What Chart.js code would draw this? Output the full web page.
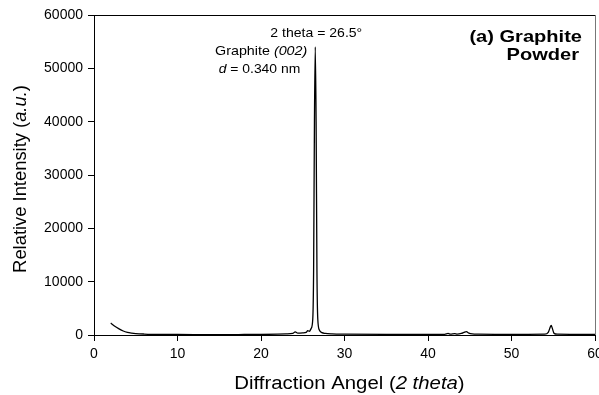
<!DOCTYPE html>
<html>
<head>
<meta charset="utf-8">
<script src="https://cdn.jsdelivr.net/npm/chart.js@4.4.1/dist/chart.umd.min.js"></script>
<style>
   body { margin: 0; overflow: hidden; background: #fff; }
   #wrap { width: 625px; height: 395px; position: relative; }
</style>
</head>
<body>
<div id="wrap"><canvas id="myChart"></canvas></div>
<script>
"use strict";

// XRD pattern
const angles = [
   2.0, 2.4, 3, 3.5, 4, 4.5, 5, 6, 7, 8, 10, 12, 14, 16, 18, 20, 22, 23,
   23.8, 24.1, 24.4, 25, 25.4, 25.6, 25.8, 26.0, 26.2, 26.3, 26.4, 26.5,
   26.6, 26.7, 26.8, 27.0, 27.3, 27.7, 28.5, 30, 35, 40, 42, 42.4, 42.7,
   43.2, 43.5, 44.0, 44.3, 44.6, 44.9, 45.3, 46, 48, 50, 52, 54, 54.4,
   54.6, 54.75, 54.9, 55.1, 55.5, 57, 60,
];
const intensity = [
   2250, 1750, 1150, 750, 500, 360, 270, 180, 130, 110, 90, 80, 80, 80, 90,
   100, 150, 200, 300, 600, 350, 400, 500, 800, 700, 1200, 3000, 12000,
   40000, 54000, 40000, 12000, 3000, 900, 450, 300, 200, 150, 120, 120,
   130, 300, 150, 250, 150, 300, 500, 650, 350, 200, 150, 130, 130, 130,
   150, 500, 1300, 1800, 1200, 300, 150, 130, 130,
];
const xTicks = [0, 10, 20, 30, 40, 50, 60];
const yTicks = [0, 10000, 20000, 30000, 40000, 50000, 60000];

const points = angles.map((a, i) => ({ x: a, y: intensity[i] }));

// draws one line of text made of several font runs, stretched by sx
const drawRuns = function (ctx, runs, x, y, align, sx = 1) {
   let total = 0;
   runs.forEach((r) => {
      ctx.font = r.font;
      total += ctx.measureText(r.t).width;
   });
   let start = 0;
   if (align === "center") start = -total / 2;
   if (align === "right") start = -total;
   ctx.save();
   ctx.translate(x, y);
   ctx.scale(sx, 1);
   ctx.textAlign = "left";
   runs.forEach((r) => {
      ctx.font = r.font;
      ctx.fillText(r.t, start, 0);
      start += ctx.measureText(r.t).width;
   });
   ctx.restore();
};

const F = "'Liberation Sans', Arial, sans-serif";

const textPlugin = {
   id: "texts",
   afterDraw(chart) {
      const ctx = chart.ctx;
      const a = chart.chartArea;
      const xs = chart.scales.x;
      ctx.save();
      // frame
      ctx.lineWidth = 1;
      ctx.strokeStyle = "#000";
      ctx.beginPath();
      ctx.moveTo(a.left, a.top + 0.5);
      ctx.lineTo(a.right + 1, a.top + 0.5);
      ctx.stroke();
      ctx.strokeStyle = "#777";
      ctx.beginPath();
      ctx.moveTo(a.right + 0.5, a.top);
      ctx.lineTo(a.right + 0.5, a.bottom);
      ctx.stroke();

      ctx.fillStyle = "#000";
      ctx.textBaseline = "alphabetic";
      const px = xs.getPixelForValue(26.5);
      drawRuns(ctx, [{ t: "2 theta = 26.5°", font: "13px " + F }], px + 1, 37, "center", 1.08);
      drawRuns(ctx, [
         { t: "Graphite ", font: "13px " + F },
         { t: "(002)", font: "italic 13px " + F },
      ], px - 8, 55, "right", 1.1);
      drawRuns(ctx, [
         { t: "d", font: "italic 13px " + F },
         { t: " = 0.340 nm", font: "13px " + F },
      ], px - 15, 73, "right", 1.07);

      drawRuns(ctx, [{ t: "(a) Graphite", font: "bold 17px " + F }], a.right - 13, 42, "right", 1.18);
      drawRuns(ctx, [{ t: "Powder", font: "bold 17px " + F }], a.right - 16, 60, "right", 1.18);

      // axis titles
      drawRuns(ctx, [
         { t: "Diffraction Angel (", font: "18px " + F },
         { t: "2 theta", font: "italic 18px " + F },
         { t: ")", font: "18px " + F },
      ], (a.left + a.right) / 2 + 5, 389, "center", 1.13);

      ctx.translate(26, 179);
      ctx.rotate(-Math.PI / 2);
      drawRuns(ctx, [
         { t: "Relative Intensity (", font: "18px " + F },
         { t: "a.u.", font: "italic 18px " + F },
         { t: ")", font: "18px " + F },
      ], 0, 0, "center", 1.02);
      ctx.restore();
   },
};

const ctx = document.getElementById("myChart").getContext("2d");
const myChart = new Chart(ctx, {
   type: "scatter",
   data: {
      datasets: [
         {
            label: "Graphite powder",
            data: points,
            showLine: true,
            borderColor: "#000",
            borderWidth: 1.3,
            pointRadius: 0,
            cubicInterpolationMode: "monotone",
         },
      ],
   },
   options: {
      responsive: true,
      maintainAspectRatio: false,
      animation: false,
      layout: { padding: { left: 0, right: 30, top: 15, bottom: 0 } },
      plugins: { legend: { display: false }, tooltip: { enabled: false } },
      scales: {
         x: {
            type: "linear",
            min: 0,
            max: 60,
            afterBuildTicks: (s) => { s.ticks = xTicks.map((v) => ({ value: v })); },
            afterFit: (s) => { s.height = 60; },
            ticks: { color: "#000", font: { family: F, size: 14 }, padding: 5, maxRotation: 0 },
            grid: { drawOnChartArea: false, drawTicks: true, tickLength: 6, color: "#000" },
            border: { color: "#000", width: 1 },
         },
         y: {
            min: 0,
            max: 60000,
            afterBuildTicks: (s) => { s.ticks = yTicks.map((v) => ({ value: v })); },
            afterFit: (s) => { s.width = 94; },
            ticks: { color: "#000", font: { family: F, size: 14 }, padding: 5, callback: (v) => String(v) },
            grid: { drawOnChartArea: false, drawTicks: true, tickLength: 6, color: "#000" },
            border: { color: "#000", width: 1 },
         },
      },
   },
   plugins: [textPlugin],
});
</script>
</body>
</html>
